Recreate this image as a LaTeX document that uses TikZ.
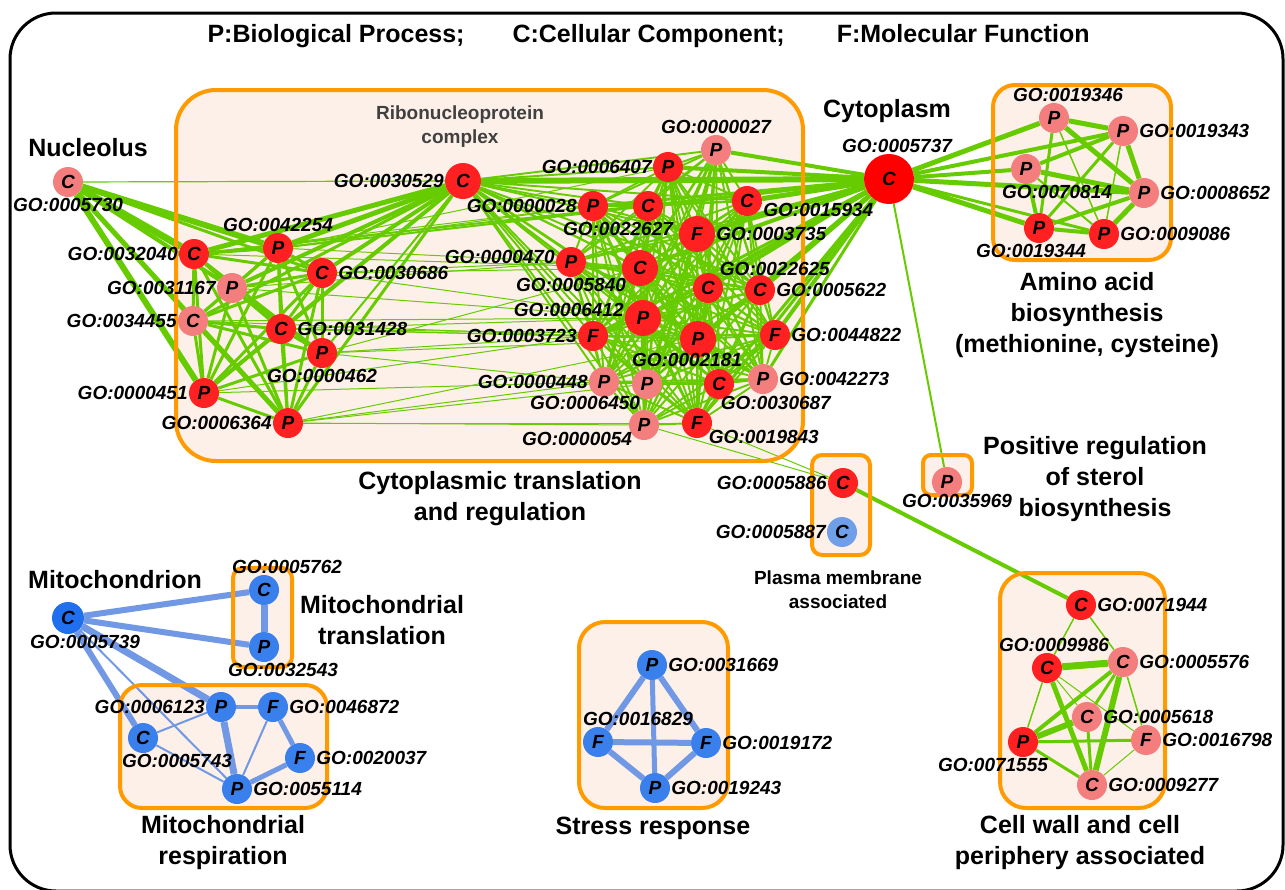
\documentclass[tikz,border=0pt]{standalone}
\usepackage{fontspec}
\setmainfont{Liberation Sans}
\usepackage{xcolor}
\definecolor{nodered}{HTML}{FF2121}
\definecolor{nodepink}{HTML}{F47E7E}
\definecolor{nodeblue}{HTML}{3A80EC}
\definecolor{mitoblue}{HTML}{1F6FEF}
\definecolor{paleblue}{HTML}{6E9FE8}
\definecolor{edgegreen}{HTML}{66CC00}
\definecolor{edgeblue}{HTML}{7198E4}
\definecolor{boxorange}{HTML}{FF9A00}
\definecolor{boxfill}{HTML}{FDF0E8}
\definecolor{mute}{HTML}{404040}
\pgfdeclarelayer{boxback}
\pgfdeclarelayer{edges}
\pgfdeclarelayer{boxline}
\pgfsetlayers{boxback,edges,boxline,main}
\tikzset{
  goterm/.style={circle, inner sep=0pt, minimum size=30pt, font=\fontsize{19}{19}\selectfont\bfseries\itshape},
  bigterm/.style={goterm, minimum size=36pt},
  hot/.style={fill=nodered},
  warm/.style={fill=nodepink},
  cool/.style={fill=nodeblue},
  golab/.style={font=\fontsize{19}{19}\selectfont\bfseries\itshape, inner sep=1pt},
  grouptitle/.style={font=\fontsize{25}{31}\selectfont\bfseries, align=center},
  smalltitle/.style={font=\fontsize{19}{24}\selectfont\bfseries, align=center},
  gedge/.style={draw=edgegreen},
  bedge/.style={draw=edgeblue},
}

\begin{document}
\begin{tikzpicture}[x=1pt, y=-1pt]
  \useasboundingbox (0,0) rectangle (1285,889);
  \draw[line width=3pt, rounded corners=46pt] (10,13) rectangle (1283,891);
  \node[font=\fontsize{25}{25}\selectfont\bfseries, anchor=west] (legend) at (204,36)
    {P:Biological Process;\hspace{48pt}C:Cellular Component;\hspace{52pt}F:Molecular Function};

  % group boxes
  \foreach \x/\y/\X/\Y/\r in {176/90/803/461/40, 993/85/1171/260/22, 923/455/972/495/8,
      812/455/870/555/10, 1000/573/1165/808/26, 579/622/728/808/26, 233/568/292/667/10,
      120/685/327/808/22} {
    \begin{pgfonlayer}{boxback}
      \fill[boxfill, rounded corners=\r pt] (\x,\y) rectangle (\X,\Y);
    \end{pgfonlayer}
    \begin{pgfonlayer}{boxline}
      \draw[boxorange, line width=4pt, rounded corners=\r pt] (\x,\y) rectangle (\X,\Y);
    \end{pgfonlayer}
  }

  % titles
  \node[grouptitle] (tnucleolus) at (88,148) {Nucleolus};
  \node[grouptitle] (tcytoplasm) at (887,111) {Cytoplasm};
  \node[smalltitle, text=mute] (tribo) at (460,127) {Ribonucleoprotein\\complex};
  \node[grouptitle] (ttransl) at (500,499) {Cytoplasmic translation\\and regulation};
  \node[grouptitle] (tamino) at (1087,315) {Amino acid\\biosynthesis\\(methionine, cysteine)};
  \node[grouptitle] (tsterol) at (1095,479) {Positive regulation\\of sterol\\biosynthesis};
  \node[smalltitle] (tplasma) at (838,590) {Plasma membrane\\associated};
  \node[grouptitle] (tmito) at (115,580) {Mitochondrion};
  \node[grouptitle] (tmitotr) at (382,620) {Mitochondrial\\translation};
  \node[grouptitle] (tmitore) at (223,843) {Mitochondrial\\respiration};
  \node[grouptitle] (tstress) at (653,828) {Stress response};
  \node[grouptitle] (twall) at (1080,843) {Cell wall and cell\\periphery associated};

  % nucleolus
  \node[goterm, warm, label={[golab]below:{GO:0005730}}] (n5730) at (68,182) {C};

  % ribosome biogenesis part
  \node[goterm, hot, label={[golab]left:{GO:0032040}}] (a32040) at (194,254) {C};
  \node[goterm, hot, label={[golab]above:{GO:0042254}}] (a42254) at (278,248) {P};
  \node[goterm, hot, label={[golab]right:{GO:0030686}}] (a30686) at (322,273) {C};
  \node[goterm, warm, label={[golab]left:{GO:0031167}}] (a31167) at (232,288) {P};
  \node[goterm, warm, label={[golab]left:{GO:0034455}}] (a34455) at (193,321) {C};
  \node[goterm, hot, label={[golab]right:{GO:0031428}}] (a31428) at (281,329) {C};
  \node[goterm, hot, label={[golab]below:{GO:0000462}}] (a0462) at (322,353) {P};
  \node[goterm, hot, label={[golab]left:{GO:0000451}}] (a0451) at (204,393) {P};
  \node[goterm, hot, label={[golab]left:{GO:0006364}}] (a6364) at (288,423) {P};

  % translation part
  \node[bigterm, hot, label={[golab]left:{GO:0030529}}] (r30529) at (463,181) {C};
  \node[goterm, warm, label={[golab]above:{GO:0000027}}] (r0027) at (716,150) {P};
  \node[goterm, hot, label={[golab]left:{GO:0006407}}] (r6407) at (668,167) {P};
  \node[goterm, hot, label={[golab]left:{GO:0000028}}] (r0028) at (593,206) {P};
  \node[goterm, hot, label={[golab, xshift=-30pt]below:{GO:0022627}}] (r22627) at (648,206) {C};
  \node[goterm, hot, label={[golab, yshift=-9pt]right:{GO:0015934}}] (r15934) at (747,201) {C};
  \node[bigterm, hot, label={[golab]right:{GO:0003735}}] (r3735) at (697,234) {F};
  \node[goterm, hot, label={[golab, yshift=5pt]left:{GO:0000470}}] (r0470) at (571,262) {P};
  \node[bigterm, hot, label={[golab, yshift=4pt]below left:{GO:0005840}}] (r5840) at (640,268) {C};
  \node[goterm, hot, label={[golab]above right:{GO:0022625}}] (r22625) at (708,288) {C};
  \node[goterm, hot, label={[golab]right:{GO:0005622}}] (r5622) at (760,290) {C};
  \node[bigterm, hot, label={[golab, yshift=8pt]left:{GO:0006412}}] (r6412) at (643,318) {P};
  \node[goterm, hot, label={[golab]left:{GO:0003723}}] (r3723) at (593,336) {F};
  \node[bigterm, hot, label={[golab, xshift=-11pt, yshift=5pt]below:{GO:0002181}}] (r2181) at (698,339) {P};
  \node[goterm, hot, label={[golab]right:{GO:0044822}}] (r44822) at (775,335) {F};
  \node[goterm, warm, label={[golab]left:{GO:0000448}}] (r0448) at (604,382) {P};
  \node[goterm, warm, label={[golab, xshift=5pt]below left:{GO:0006450}}] (r6450) at (647,384) {P};
  \node[goterm, hot, label={[golab, xshift=-10pt]below right:{GO:0030687}}] (r30687) at (719,384) {C};
  \node[goterm, warm, label={[golab]right:{GO:0042273}}] (r42273) at (763,379) {P};
  \node[goterm, warm, label={[golab, yshift=5pt]below left:{GO:0000054}}] (r0054) at (644,425) {P};
  \node[goterm, hot, label={[golab, yshift=5pt]below right:{GO:0019843}}] (r19843) at (697,423) {F};

  % cytoplasm and amino acid biosynthesis
  \node[goterm, minimum size=50pt, fill=red, label={[golab, xshift=8pt]above:{GO:0005737}}] (c5737) at (889,179) {C};
  \node[goterm, warm, label={[golab, xshift=14pt]above:{GO:0019346}}] (b19346) at (1054,118) {P};
  \node[goterm, warm, label={[golab]right:{GO:0019343}}] (b19343) at (1123,131) {P};
  \node[goterm, warm, label={[golab, xshift=31pt]below:{GO:0070814}}] (b70814) at (1026,169) {P};
  \node[goterm, warm, label={[golab]right:{GO:0008652}}] (b8652) at (1144,193) {P};
  \node[goterm, hot, label={[golab, xshift=-8pt]below:{GO:0019344}}] (b19344) at (1039,228) {P};
  \node[goterm, hot, label={[golab]right:{GO:0009086}}] (b9086) at (1104,234) {P};

  % sterol, plasma membrane
  \node[goterm, warm, label={[golab, xshift=10pt, yshift=4pt]below:{GO:0035969}}] (p35969) at (947,482) {P};
  \node[goterm, hot, label={[golab]left:{GO:0005886}}] (m5886) at (843,483) {C};
  \node[goterm, fill=paleblue, label={[golab]left:{GO:0005887}}] (m5887) at (842,532) {C};

  % cell wall
  \node[goterm, hot, label={[golab]right:{GO:0071944}}] (w71944) at (1081,605) {C};
  \node[goterm, hot, label={[golab, xshift=7pt]above:{GO:0009986}}] (w9986) at (1047,668) {C};
  \node[goterm, warm, label={[golab]right:{GO:0005576}}] (w5576) at (1123,662) {C};
  \node[goterm, warm, label={[golab]right:{GO:0005618}}] (w5618) at (1087,717) {C};
  \node[goterm, hot, label={[golab, xshift=-30pt]below:{GO:0071555}}] (w71555) at (1023,742) {P};
  \node[goterm, warm, label={[golab]right:{GO:0016798}}] (w16798) at (1146,740) {F};
  \node[goterm, warm, label={[golab]right:{GO:0009277}}] (w9277) at (1092,785) {C};

  % stress response
  \node[goterm, cool, label={[golab]right:{GO:0031669}}] (s31669) at (652,665) {P};
  \node[goterm, cool, label={[golab, xshift=40pt]above:{GO:0016829}}] (s16829) at (598,742) {F};
  \node[goterm, cool, label={[golab]right:{GO:0019172}}] (s19172) at (706,743) {F};
  \node[goterm, cool, label={[golab]right:{GO:0019243}}] (s19243) at (655,788) {P};

  % mitochondrion
  \node[goterm, minimum size=32pt, fill=mitoblue, label={[golab, xshift=17pt]below:{GO:0005739}}] (t5739) at (68,618) {C};
  \node[goterm, cool, label={[golab, xshift=23pt]above:{GO:0005762}}] (t5762) at (264,590) {C};
  \node[goterm, cool, label={[golab, xshift=19pt]below:{GO:0032543}}] (t32543) at (264,647) {P};
  \node[goterm, cool, label={[golab]left:{GO:0006123}}] (e6123) at (221,707) {P};
  \node[goterm, cool, label={[golab]right:{GO:0046872}}] (e46872) at (273,707) {F};
  \node[goterm, cool, label={[golab, xshift=34pt]below:{GO:0005743}}] (e5743) at (143,738) {C};
  \node[goterm, cool, label={[golab]right:{GO:0020037}}] (e20037) at (300,758) {F};
  \node[goterm, cool, label={[golab]right:{GO:0055114}}] (e55114) at (237,789) {P};

  \begin{pgfonlayer}{edges}
    % nucleolus links
    \foreach \b/\w in {r30529/1.2, a32040/7, a42254/6, a30686/3, a31167/4, a34455/3, a0451/6, a6364/5}
      \draw[gedge, line width=\w pt] (n5730) -- (\b);
    \foreach \b/\w in {a32040/5, a42254/5, a30686/4, a31167/4, a34455/3, a31428/3, a0462/2, a0451/4, a6364/3}
      \draw[gedge, line width=\w pt] (r30529) -- (\b);
    % ribosome biogenesis, all pairs
    \foreach \a [count=\i] in {a32040,a42254,a30686,a31167,a34455,a31428,a0462,a0451,a6364}
      \foreach \b [count=\j] in {a32040,a42254,a30686,a31167,a34455,a31428,a0462,a0451,a6364}
        {\ifnum\j>\i \draw[gedge, line width=3pt] (\a) -- (\b); \fi}
    \foreach \a/\b in {a42254/r0028, a42254/r6407, a42254/r0470, a32040/r0028, a32040/r5840,
        a30686/r0470, a30686/r5840, a30686/r6412, a31167/r0470, a31167/r6412, a31428/r3723,
        a31428/r6412, a31428/r2181, a31428/r44822, a0462/r3723, a0462/r2181, a0462/r0448,
        a0462/r5840, a0451/r3723, a0451/r0448, a6364/r0448, a6364/r6450, a6364/r0054,
        a6364/r19843, a6364/r2181, a34455/r3723, a34455/r6412}
      \draw[gedge, line width=1pt] (\a) -- (\b);
    % translation, all pairs
    \foreach \a [count=\i] in {r30529,r0027,r6407,r0028,r22627,r15934,r3735,r0470,r5840,r22625,r5622,
        r6412,r3723,r2181,r44822,r0448,r6450,r30687,r42273,r0054,r19843}
      \foreach \b [count=\j] in {r30529,r0027,r6407,r0028,r22627,r15934,r3735,r0470,r5840,r22625,r5622,
          r6412,r3723,r2181,r44822,r0448,r6450,r30687,r42273,r0054,r19843}
        {\ifnum\j>\i \draw[gedge, line width=1.9pt] (\a) -- (\b); \fi}
    % cytoplasm links
    \foreach \b/\w in {r30529/6, r0027/4, r6407/4, r0028/3, r22627/3, r15934/5, r3735/5, r0470/2,
        r5840/4, r22625/4, r5622/5, r6412/4, r3723/3, r2181/4, r44822/4, r42273/3, r30687/3,
        r19843/3, a42254/2, a32040/2, b19346/5, b19343/4, b70814/4, b8652/5, b19344/5, b9086/3,
        p35969/2}
      \draw[gedge, line width=\w pt] (c5737) -- (\b);
    % amino acid biosynthesis
    \foreach \a/\b/\w in {b19346/b19343/5, b19346/b8652/5, b19346/b19344/3, b19346/b9086/1.5,
        b19343/b8652/5, b19343/b19344/3, b19343/b9086/1.5, b19343/b70814/4, b70814/b8652/5,
        b70814/b19344/4, b70814/b9086/2, b8652/b19344/4, b8652/b9086/5, b19344/b9086/4}
      \draw[gedge, line width=\w pt] (\a) -- (\b);
    % plasma membrane and cell wall
    \foreach \a/\b/\w in {r0054/m5886/1, r19843/m5886/1, m5886/w71944/4,
        w71944/w9986/1.5, w71944/w5576/1.5, w9986/w5576/7, w9986/w71555/1.5, w9986/w5618/1,
        w9986/w16798/1, w9986/w9277/5, w5576/w71555/4, w5576/w5618/3, w5576/w9277/6,
        w5576/w16798/1.5, w71555/w5618/6, w71555/w16798/3, w71555/w9277/3, w5618/w9277/3,
        w16798/w9277/1}
      \draw[gedge, line width=\w pt] (\a) -- (\b);
    % mitochondrion
    \foreach \a/\b/\w in {t5739/t5762/6, t5739/t32543/6, t5762/t32543/7, t5739/e6123/7,
        t5739/e5743/6, t5739/e55114/2, e5743/e6123/2, e5743/e55114/2, e6123/e46872/4,
        e6123/e55114/7, e46872/e55114/2, e46872/e20037/5, e20037/e55114/5}
      \draw[bedge, line width=\w pt] (\a) -- (\b);
    % stress response
    \foreach \a/\b/\w in {s31669/s16829/6, s31669/s19172/6, s31669/s19243/5, s16829/s19172/6,
        s16829/s19243/6, s19172/s19243/6}
      \draw[bedge, line width=\w pt] (\a) -- (\b);
  \end{pgfonlayer}
\end{tikzpicture}
\end{document}
